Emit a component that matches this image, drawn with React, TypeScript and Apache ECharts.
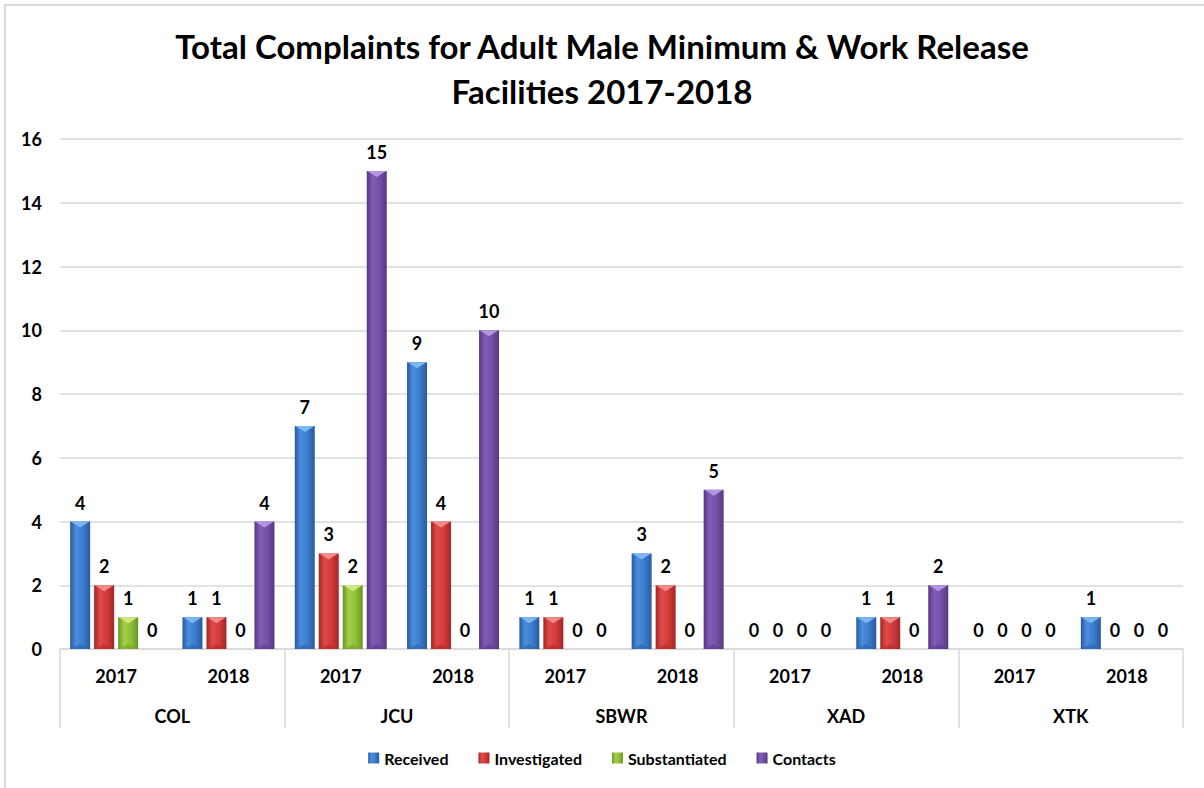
import React, { useEffect, useRef } from "react";
import * as echarts from "echarts";

// Facilities and years form the two-level category axis
const facilities = ["COL", "JCU", "SBWR", "XAD", "XTK"];
const years = ["2017", "2018"];

// One value per facility/year, in the order COL 2017, COL 2018, JCU 2017, ...
const received = [4, 1, 7, 9, 1, 3, 0, 1, 0, 1];
const investigated = [2, 1, 3, 4, 1, 2, 0, 1, 0, 0];
const substantiated = [1, 0, 2, 0, 0, 0, 0, 0, 0, 0];
const contacts = [0, 4, 15, 10, 0, 5, 0, 2, 0, 0];

const seriesNames = ["Received", "Investigated", "Substantiated", "Contacts"];
const seriesValues = [received, investigated, substantiated, contacts];

// dark edge, light centre, bevel highlight, bevel shade
const palettes = [
  { edge: "#2a5a9c", mid: "#3b7bcc", light: "#4a8ee0", hi: "#7cb6f4", lo: "#2e62a6" },
  { edge: "#a42626", mid: "#d03a3a", light: "#e04a4a", hi: "#f48a8a", lo: "#b22c2c" },
  { edge: "#6a9424", mid: "#8fbf38", light: "#a0d046", hi: "#cceb80", lo: "#76a22a" },
  { edge: "#563682", mid: "#7450a6", light: "#835cb8", hi: "#b494e4", lo: "#5e3c8c" },
];

const yTicks = { min: 0, max: 16, interval: 2 };

const FONT = "Lato, 'Open Sans', sans-serif";
const BAR_W = 20;
const BAR_GAP = 4;

export default function App() {
  const ref = useRef<HTMLDivElement>(null);

  useEffect(() => {
    if (!ref.current) return;
    const chart = echarts.init(ref.current, null, { renderer: "svg" });

    const yearLabels = facilities.flatMap(() => years);
    const n = seriesNames.length;
    const groupW = n * BAR_W + (n - 1) * BAR_GAP;

    const barSeries = seriesNames.map((name, i) => {
      const p = palettes[i];
      return {
        name,
        type: "bar",
        xAxisIndex: 0,
        barWidth: BAR_W,
        barGap: `${(BAR_GAP / BAR_W) * 100}%`,
        data: seriesValues[i],
        itemStyle: {
          color: new echarts.graphic.LinearGradient(0, 0, 1, 0, [
            { offset: 0, color: p.edge },
            { offset: 0.3, color: p.light },
            { offset: 0.65, color: p.mid },
            { offset: 1, color: p.edge },
          ]),
          borderWidth: 0,
        },
        label: {
          show: true,
          position: "top",
          distance: 10,
          color: "#000",
          fontFamily: FONT,
          fontWeight: "bold",
          fontSize: 18,
        },
      };
    });

    // Bevel highlights drawn over each bar's top and bottom
    const bevelData = received.map((_, k) => [k, ...seriesValues.map((s) => s[k])]);
    const bevelSeries = {
      type: "custom",
      xAxisIndex: 0,
      silent: true,
      z: 5,
      encode: { x: 0, y: [1, 2, 3, 4] },
      data: bevelData,
      renderItem: (_params: any, api: any) => {
        const idx = api.value(0);
        const children: any[] = [];
        for (let i = 0; i < n; i++) {
          const v = api.value(i + 1);
          if (!(v > 0)) continue;
          const top = api.coord([idx, v]);
          const base = api.coord([idx, 0]);
          const x0 = top[0] - groupW / 2 + i * (BAR_W + BAR_GAP);
          const p = palettes[i];
          children.push({
            type: "polygon",
            shape: {
              points: [
                [x0 + 0.5, top[1]],
                [x0 + BAR_W - 0.5, top[1]],
                [x0 + BAR_W / 2, top[1] + 6],
              ],
            },
            style: { fill: p.hi },
          });
          children.push({
            type: "polygon",
            shape: {
              points: [
                [x0 + 0.5, base[1]],
                [x0 + BAR_W - 0.5, base[1]],
                [x0 + BAR_W / 2, base[1] - 5],
              ],
            },
            style: { fill: p.lo, opacity: 0.6 },
          });
        }
        return { type: "group", children };
      },
    };

    chart.setOption({
      animation: false,
      backgroundColor: "#fff",
      title: {
        text: "Total Complaints for Adult Male Minimum & Work Release\nFacilities 2017-2018",
        left: "center",
        top: 18,
        textStyle: {
          fontFamily: FONT,
          fontWeight: "bold",
          fontSize: 33,
          lineHeight: 45,
          color: "#000",
        },
      },
      graphic: [
        {
          type: "rect",
          shape: { x: 5, y: 5, width: 1400, height: 1000 },
          style: { fill: "none", stroke: "#d9d9d9", lineWidth: 2 },
          silent: true,
        },
      ],
      legend: {
        data: seriesNames,
        left: "center",
        top: 745,
        itemWidth: 11,
        itemHeight: 11,
        itemGap: 30,
        icon: "rect",
        textStyle: {
          fontFamily: FONT,
          fontWeight: "bold",
          fontSize: 16,
          color: "#000",
        },
      },
      grid: { left: 60, right: 21, top: 139, bottom: 139 },
      xAxis: [
        {
          type: "category",
          data: yearLabels,
          position: "bottom",
          axisLine: { show: true, lineStyle: { color: "#d9d9d9", width: 1.5 } },
          axisTick: { show: false },
          axisLabel: {
            margin: 18,
            color: "#000",
            fontFamily: FONT,
            fontWeight: "bold",
            fontSize: 18,
          },
        },
        {
          type: "category",
          data: facilities,
          position: "bottom",
          axisLine: { show: false },
          axisTick: {
            show: true,
            length: 79,
            interval: 0,
            lineStyle: { color: "#d9d9d9", width: 1.5 },
          },
          axisLabel: {
            margin: 58,
            color: "#000",
            fontFamily: FONT,
            fontWeight: "bold",
            fontSize: 18,
          },
        },
      ],
      yAxis: {
        type: "value",
        min: yTicks.min,
        max: yTicks.max,
        interval: yTicks.interval,
        axisLine: { show: false },
        axisTick: { show: false },
        splitLine: { lineStyle: { color: "#d9d9d9", width: 1.5 } },
        axisLabel: {
          margin: 18,
          color: "#000",
          fontFamily: FONT,
          fontWeight: "bold",
          fontSize: 18,
        },
      },
      series: [...barSeries, bevelSeries],
    });

    return () => chart.dispose();
  }, []);

  return (
    <div
      ref={ref}
      style={{ position: "absolute", left: 0, top: 0, width: 1204, height: 788 }}
    />
  );
}
